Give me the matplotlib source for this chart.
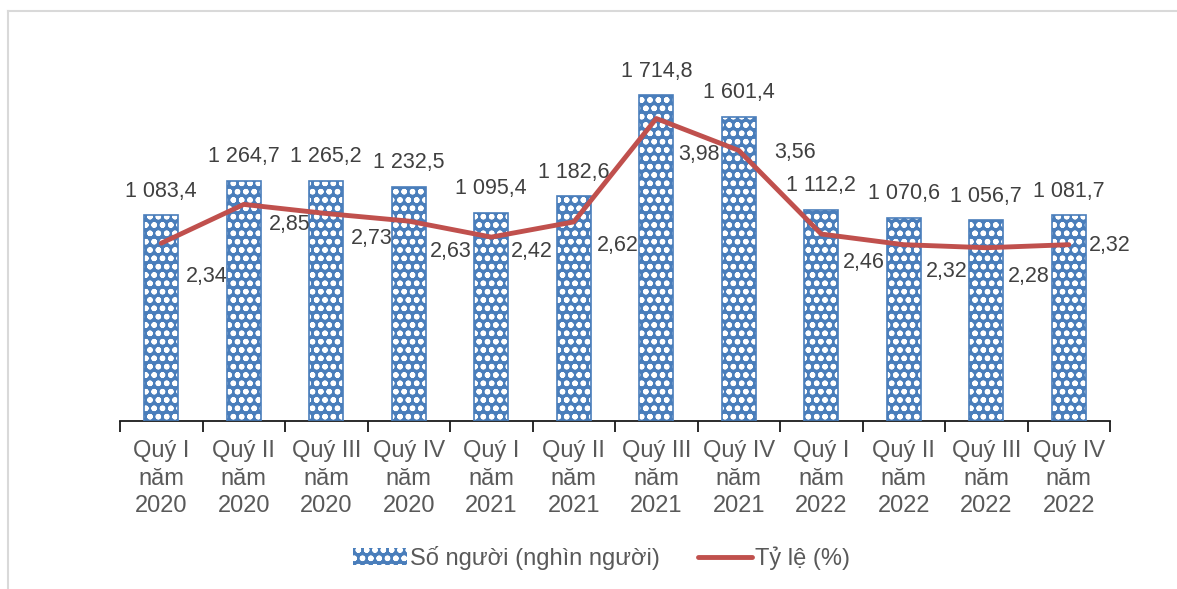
import matplotlib
matplotlib.use("Agg")
import matplotlib.pyplot as plt
from matplotlib.patches import Rectangle
from matplotlib.lines import Line2D

plt.rcParams["font.family"] = ["Liberation Sans", "DejaVu Sans"]
plt.rcParams["hatch.color"] = "white"
plt.rcParams["hatch.linewidth"] = 1.6

# data
quarters = ["Quý I", "Quý II", "Quý III", "Quý IV"] * 3
years = ["2020"] * 4 + ["2021"] * 4 + ["2022"] * 4
so_nguoi = [1083.4, 1264.7, 1265.2, 1232.5, 1095.4, 1182.6,
            1714.8, 1601.4, 1112.2, 1070.6, 1056.7, 1081.7]
ty_le = [2.34, 2.85, 2.73, 2.63, 2.42, 2.62,
         3.98, 3.56, 2.46, 2.32, 2.28, 2.32]

# label placement for the rate labels (pixels right / down from the point)
rate_offsets = [(45, 33), (46, 20), (45, 25), (42, 30), (41, 14), (44, 24),
                (43, 36), (56, 2), (43, 28), (43, 27), (42, 29), (41, 1)]

BLUE = "#4a7ebb"
RED = "#c0504d"
TEXT = "#404040"

fig = plt.figure(figsize=(11.77, 5.89), dpi=100)
ax = fig.add_axes([0.102, 0.2852, 0.8411, 0.6452])
ax2 = ax.twinx()

x = list(range(len(so_nguoi)))
ax.bar(x, so_nguoi, width=0.41, color=BLUE, edgecolor="white",
       hatch="oo", linewidth=0, zorder=2)
ax.bar(x, so_nguoi, width=0.41, fill=False, edgecolor=BLUE,
       linewidth=1.2, zorder=3)
ax.set_ylim(0, 2000)
ax.set_xlim(-0.5, len(x) - 0.5)

for xi, v in zip(x, so_nguoi):
    label = f"{v:,.1f}".replace(",", " ").replace(".", ",")
    ax.annotate(label, (xi, v), xytext=(0, 24), textcoords="offset pixels",
                ha="center", va="center", fontsize=15.5, color=TEXT)

ax2.plot(x, ty_le, color=RED, linewidth=3.5, solid_capstyle="round", zorder=4)
ax2.set_ylim(0, 5)
for xi, v, (dx, dy) in zip(x, ty_le, rate_offsets):
    ax2.annotate(f"{v:.2f}".replace(".", ","), (xi, v), xytext=(dx, -dy),
                 textcoords="offset pixels", ha="center", va="center",
                 fontsize=15.5, color=TEXT)

# axes styling
for a in (ax, ax2):
    for side in ("top", "right", "left"):
        a.spines[side].set_visible(False)
    a.set_yticks([])
ax2.spines["bottom"].set_visible(False)
ax.spines["bottom"].set_color("#1a1a1a")
ax.spines["bottom"].set_linewidth(1.3)

ax.set_xticks([i - 0.5 for i in range(len(x) + 1)])
ax.set_xticklabels([])
ax.tick_params(axis="x", which="major", length=8, width=1.3, color="#1a1a1a")
ax.set_xticks(x, minor=True)
ax.set_xticklabels([f"{q}\nnăm\n{y}" for q, y in zip(quarters, years)],
                   minor=True, fontsize=17, color="#595959", linespacing=1.3)
ax.tick_params(axis="x", which="minor", length=0, pad=14)

# legend
bar_handle = Rectangle((0, 0), 1, 1, facecolor=BLUE, edgecolor="white",
                       hatch="oo", linewidth=0)
line_handle = Line2D([], [], color=RED, linewidth=3.5, solid_capstyle="round")
fig.legend([bar_handle, line_handle], ["Số người (nghìn người)", "Tỷ lệ (%)"],
           loc="center", bbox_to_anchor=(0.511, 0.053), ncol=2, frameon=False,
           fontsize=17, labelcolor="#595959", handlelength=2.3,
           handletextpad=0.12, columnspacing=1.6)

# chart frame
fig.add_artist(Line2D([8 / 1177, 8 / 1177], [0, 1 - 11 / 589],
                      transform=fig.transFigure, color="#d9d9d9", linewidth=1.5))
fig.add_artist(Line2D([8 / 1177, 1], [1 - 11 / 589, 1 - 11 / 589],
                      transform=fig.transFigure, color="#d9d9d9", linewidth=1.5))

fig.savefig("out.png", dpi=100)
